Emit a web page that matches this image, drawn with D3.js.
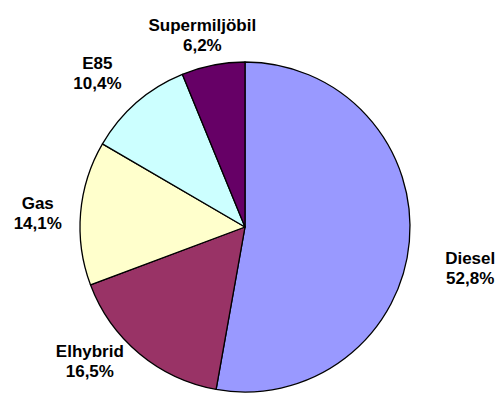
<!DOCTYPE html>
<html>
<head>
<meta charset="utf-8">
<script src="https://cdn.jsdelivr.net/npm/d3@7"></script>
<style>
  html, body { margin: 0; padding: 0; background: #fff; }
  .label { font-family: Arial, "Liberation Sans", sans-serif; font-weight: bold; font-size: 17px; fill: #000; }
</style>
</head>
<body>
<div id="chart"></div>
<script>
// --- Data ---
const categories = ["Diesel", "Elhybrid", "Gas", "E85", "Supermiljöbil"];
const shares = [52.8, 16.5, 14.1, 10.4, 6.2];
const colors = ["#9999FF", "#993366", "#FFFFCC", "#CCFFFF", "#660066"];

// --- Layout ---
const width = 498;
const height = 405;
const cx = 245, cy = 227, radius = 165;
const labelRadius = 205;
// small nudges so labels sit where Excel put them
const labelNudge = [[21, 23], [-24, -24], [-3, 3], [-13, 1], [-3, 9]];

const data = categories.map((c, i) => ({ name: c, value: shares[i], color: colors[i], i }));

const svg = d3.select("#chart")
  .append("svg")
  .attr("width", width)
  .attr("height", height);

const g = svg.append("g").attr("transform", `translate(${cx},${cy})`);

const pie = d3.pie().value(d => d.value).sort(null);
const arc = d3.arc().innerRadius(0).outerRadius(radius);
const labelArc = d3.arc().innerRadius(labelRadius).outerRadius(labelRadius);

const arcs = pie(data);

g.selectAll("path.slice")
  .data(arcs)
  .join("path")
  .attr("class", "slice")
  .attr("d", arc)
  .attr("fill", d => d.data.color)
  .attr("stroke", "#000")
  .attr("stroke-width", 1.3)
  .attr("stroke-linejoin", "round");

const fmt = v => v.toFixed(1).replace(".", ",") + "%";

const labels = g.selectAll("text.label")
  .data(arcs)
  .join("text")
  .attr("class", "label")
  .attr("text-anchor", "middle")
  .attr("transform", d => {
    const [x, y] = labelArc.centroid(d);
    const [nx, ny] = labelNudge[d.data.i];
    return `translate(${x + nx},${y + ny})`;
  });

labels.append("tspan").attr("x", 0).attr("y", -4).text(d => d.data.name);
labels.append("tspan").attr("x", 0).attr("y", 16).text(d => fmt(d.data.value));
</script>
</body>
</html>
